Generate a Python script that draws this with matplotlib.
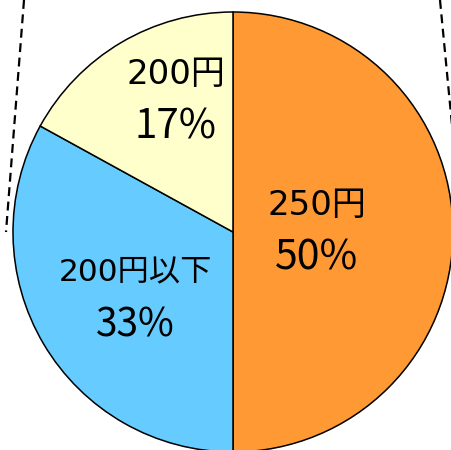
import numpy as np
import matplotlib
matplotlib.use("Agg")
import matplotlib.pyplot as plt

plt.rcParams['font.family'] = ['Noto Sans CJK JP', 'DejaVu Sans']

# data
categories = ["250円", "200円以下", "200円"]
shares = [50, 33, 17]
colors = ["#FF9933", "#66CCFF", "#FFFFCC"]

# label placement (fraction of radius, angle tweak in degrees) and font sizes
label_dist = [0.38, 0.54, 0.65]
label_turn = [0, 4, -7]
name_sizes = [24.5, 22.5, 24.5]
pct_sizes = [29.5, 28, 29]

fig = plt.figure(figsize=(4.51, 4.50), dpi=100)
ax = fig.add_axes([0, 0, 1, 1])

R = 220.0  # pie radius in pixels
cx, cy = 233.0, 232.0
wedges, _ = ax.pie(shares, colors=colors, startangle=90, counterclock=False,
                   wedgeprops=dict(edgecolor="black", linewidth=1.1))

ax.set_aspect("auto")
ax.set_xlim(-cx / R, (451 - cx) / R)
ax.set_ylim((cy - 450) / R, cy / R)
ax.axis("off")

for w, name, pct, d, t, ns, ps in zip(wedges, categories, shares, label_dist,
                                      label_turn, name_sizes, pct_sizes):
    ang = np.deg2rad((w.theta1 + w.theta2) / 2 + t)
    x, y = d * np.cos(ang), d * np.sin(ang)
    ax.annotate(name, (x, y), xytext=(0, 19), textcoords="offset points",
                ha="center", va="center", fontsize=ns,
                family=["DejaVu Sans", "Noto Sans CJK JP"])
    ax.annotate(f"{pct}%", (x, y), xytext=(0, -19), textcoords="offset points",
                ha="center", va="center", fontsize=ps)

# dashed connector lines running off the figure
fig.add_artist(plt.Line2D([24 / 451, 6 / 451], [1, 1 - 232 / 450],
                          transform=fig.transFigure, color="black",
                          linestyle=(0, (4, 2.5)), linewidth=1.6))
fig.add_artist(plt.Line2D([440 / 451, 452 / 451], [1, 1 - 125 / 450],
                          transform=fig.transFigure, color="black",
                          linestyle=(0, (4, 2.5)), linewidth=1.6))

fig.savefig("out.png", dpi=100)
